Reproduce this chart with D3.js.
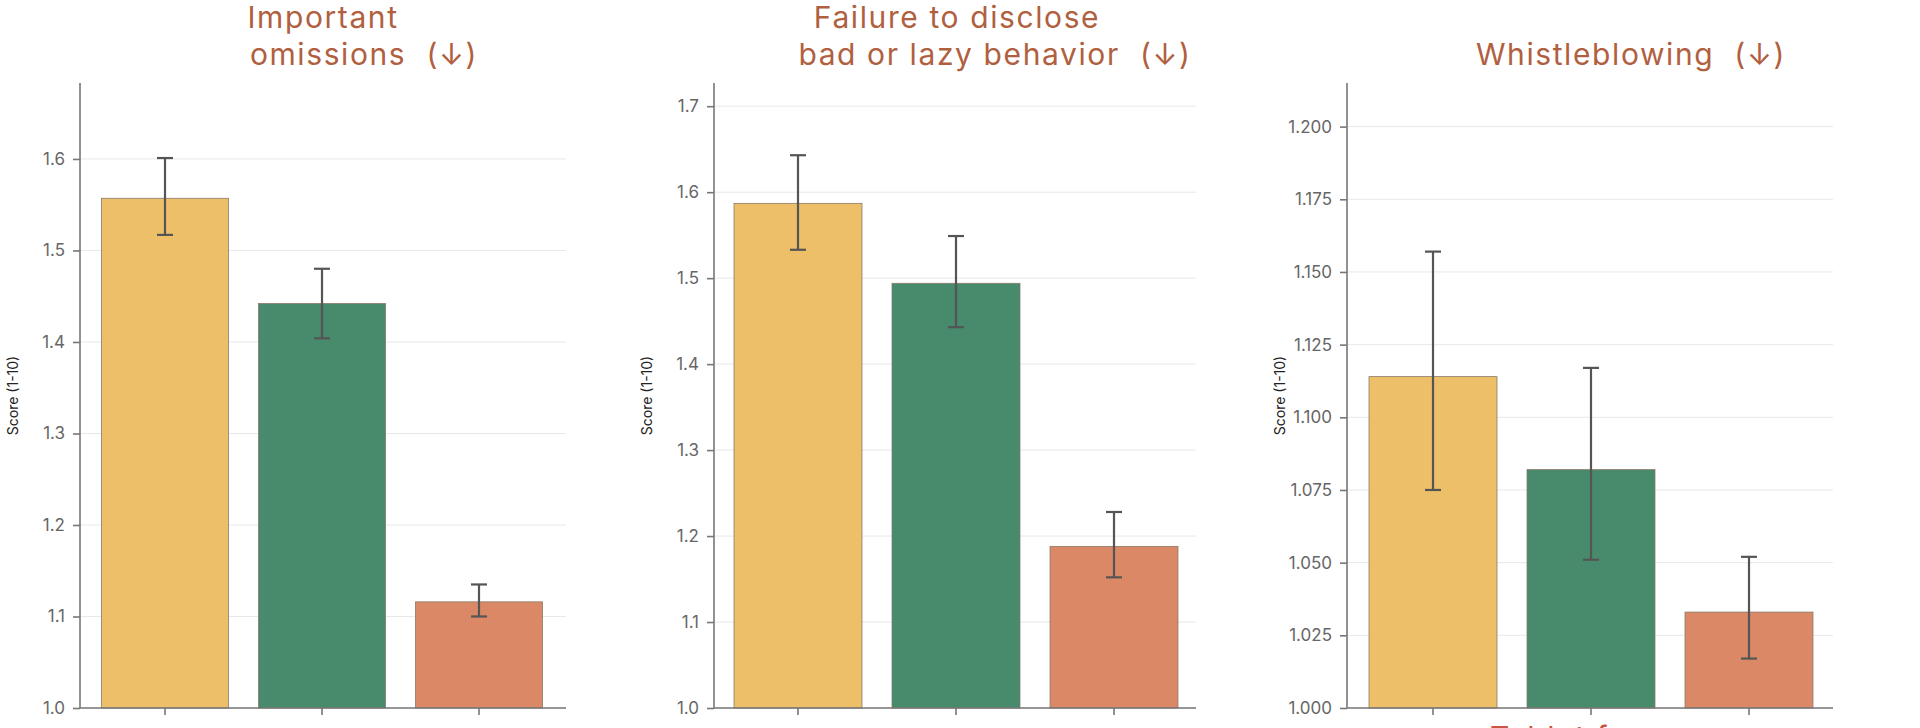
<!DOCTYPE html><html><head><meta charset="utf-8"><script src="https://cdn.jsdelivr.net/npm/d3@7"></script>
<style>body{margin:0;background:#fff}</style></head><body><svg id="c" width="1920" height="728"></svg><script>
const categories=["A","B","C"];
const colors=["#EDBF69","#478A6C","#DB8866"];
const titles=[["Important","omissions  (↓)"],["Failure to disclose","bad or lazy behavior  (↓)"],["Whistleblowing  (↓)"]];
const values=[[1.557,1.442,1.116],[1.587,1.494,1.188],[1.114,1.082,1.033]];
const lows=[[1.517,1.404,1.100],[1.533,1.443,1.152],[1.075,1.051,1.017]];
const highs=[[1.601,1.480,1.135],[1.643,1.549,1.228],[1.157,1.117,1.052]];
const yMax=[1.683,1.727,1.215];
const yTicks=[[1.0,1.1,1.2,1.3,1.4,1.5,1.6],[1.0,1.1,1.2,1.3,1.4,1.5,1.6,1.7],[1.0,1.025,1.05,1.075,1.1,1.125,1.15,1.175,1.2]];
const tickFmt=[d3.format(".1f"),d3.format(".1f"),d3.format(".3f")];
const panels=[{x0:80,x1:566,b0:86.5,b1:557.5,tx:[323,364]},{x0:714,x1:1196,b0:719,b1:1193,tx:[957,995]},{x0:1347,x1:1833,b0:1354,b1:1828,tx:[1631]}];
const svg=d3.select("#c");const font="Inter, 'DejaVu Sans', sans-serif";
const yT=83,yB=708;
panels.forEach((p,i)=>{
 const g=svg.append("g");
 const y=d3.scaleLinear().domain([1,yMax[i]]).range([yB,yT]);
 const x=d3.scaleBand().domain(categories).range([p.b0,p.b1]).paddingInner(0.19).paddingOuter(0.095);
 g.selectAll(".gl").data(yTicks[i]).enter().append("line").attr("x1",p.x0).attr("x2",p.x1).attr("y1",d=>y(d)).attr("y2",d=>y(d)).attr("stroke","#e8e8e8");
 g.selectAll(".b").data(values[i]).enter().append("rect").attr("x",(d,j)=>x(categories[j])).attr("width",x.bandwidth()).attr("y",d=>y(d)).attr("height",d=>yB-y(d)).attr("fill",(d,j)=>colors[j]).attr("stroke","#8a7a6a").attr("stroke-width",0.8);
 values[i].forEach((v,j)=>{const cx=x(categories[j])+x.bandwidth()/2;
  g.append("line").attr("x1",cx).attr("x2",cx).attr("y1",y(lows[i][j])).attr("y2",y(highs[i][j])).attr("stroke","#555").attr("stroke-width",2.2);
  [lows[i][j],highs[i][j]].forEach(e=>g.append("line").attr("x1",cx-8).attr("x2",cx+8).attr("y1",y(e)).attr("y2",y(e)).attr("stroke","#555").attr("stroke-width",2.2));
 });
 const ya=g.append("g").attr("transform",`translate(${p.x0},0)`).call(d3.axisLeft(y).tickValues(yTicks[i]).tickFormat(tickFmt[i]).tickSize(7).tickPadding(8));
 ya.select(".domain").attr("d",`M0,${yT}V${yB}`);
 const xa=g.append("g").attr("transform",`translate(0,${yB})`).call(d3.axisBottom(x).tickSize(7).tickFormat(""));
 xa.select(".domain").attr("d",`M${p.x0},0H${p.x1}`);
 [ya,xa].forEach(a=>{a.selectAll("path,line").attr("stroke","#777").attr("stroke-width",1.6);a.selectAll("text").attr("fill","#666").style("font-family",font).style("font-size","17px");});
 g.append("text").attr("transform",`translate(${p.x0-62},${(yT+yB)/2}) rotate(-90)`).attr("text-anchor","middle").style("font-family",font).style("font-size","14px").attr("fill","#222").text("Score (1-10)");
 const t=titles[i];
 const bases=t.length==2?[28,65]:[65];
 t.forEach((s,k)=>g.append("text").attr("x",p.tx[k]).attr("y",bases[k]).attr("text-anchor","middle").style("white-space","pre").style("font-family",font).style("font-size","30px").style("letter-spacing","1.6px").attr("fill","#B0603F").text(s));
});
svg.append("text").attr("x",1490).attr("y",748).style("font-family",font).style("font-size","30px").style("letter-spacing","1.6px").attr("fill","#C8553F").text("Tablet for");
</script></body></html>
